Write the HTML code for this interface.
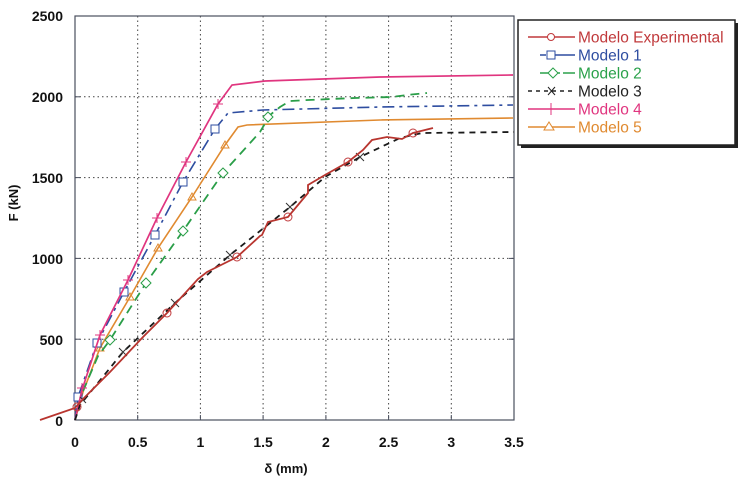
<!DOCTYPE html>
<html><head><meta charset="utf-8"><style>
html,body{margin:0;padding:0;background:#fff;}
svg{display:block;}
text{font-family:"Liberation Sans",Arial,sans-serif;}
.tk{font-size:14px;font-weight:bold;fill:#111;}
</style></head><body>
<svg width="746" height="483" viewBox="0 0 746 483" xmlns="http://www.w3.org/2000/svg">
<rect width="746" height="483" fill="#fff"/>
<!-- grid -->
<g stroke="#444" stroke-width="1" stroke-dasharray="1.5,3" fill="none">
<line x1="137.7" y1="16" x2="137.7" y2="420"/>
<line x1="200.4" y1="16" x2="200.4" y2="420"/>
<line x1="263.1" y1="16" x2="263.1" y2="420"/>
<line x1="325.9" y1="16" x2="325.9" y2="420"/>
<line x1="388.6" y1="16" x2="388.6" y2="420"/>
<line x1="451.3" y1="16" x2="451.3" y2="420"/>
<line x1="75" y1="339.2" x2="514" y2="339.2"/>
<line x1="75" y1="258.4" x2="514" y2="258.4"/>
<line x1="75" y1="177.6" x2="514" y2="177.6"/>
<line x1="75" y1="96.8" x2="514" y2="96.8"/>
</g>
<!-- frame -->
<rect x="75" y="16" width="439" height="404" fill="none" stroke="#4a4f5e" stroke-width="1.2"/>
<g stroke="#4a4f5e" stroke-width="1">
<line x1="75" y1="339.2" x2="80" y2="339.2"/><line x1="75" y1="258.4" x2="80" y2="258.4"/><line x1="75" y1="177.6" x2="80" y2="177.6"/><line x1="75" y1="96.8" x2="80" y2="96.8"/>
<line x1="514" y1="339.2" x2="509" y2="339.2"/><line x1="514" y1="258.4" x2="509" y2="258.4"/><line x1="514" y1="177.6" x2="509" y2="177.6"/><line x1="514" y1="96.8" x2="509" y2="96.8"/>
<line x1="137.7" y1="420" x2="137.7" y2="415"/><line x1="200.4" y1="420" x2="200.4" y2="415"/><line x1="263.1" y1="420" x2="263.1" y2="415"/><line x1="325.9" y1="420" x2="325.9" y2="415"/><line x1="388.6" y1="420" x2="388.6" y2="415"/><line x1="451.3" y1="420" x2="451.3" y2="415"/>
</g>
<!-- y tick labels -->
<g class="tk" text-anchor="end">
<text x="63" y="21">2500</text>
<text x="63" y="102">2000</text>
<text x="63" y="183">1500</text>
<text x="63" y="264">1000</text>
<text x="63" y="345">500</text>
<text x="63" y="426">0</text>
</g>
<!-- x tick labels -->
<g class="tk" text-anchor="middle">
<text x="75" y="447">0</text>
<text x="137.7" y="447">0.5</text>
<text x="200.4" y="447">1</text>
<text x="263.1" y="447">1.5</text>
<text x="325.9" y="447">2</text>
<text x="388.6" y="447">2.5</text>
<text x="451.3" y="447">3</text>
<text x="514" y="447">3.5</text>
</g>
<text x="286" y="473" text-anchor="middle" style="font-size:13px;font-weight:bold;fill:#111">δ (mm)</text>
<text transform="translate(18,203) rotate(-90)" text-anchor="middle" style="font-size:13px;font-weight:bold;fill:#111">F (kN)</text>

<!-- Modelo 5 orange -->
<polyline fill="none" stroke="#e08a30" stroke-width="1.6" points="75,420 83,392 100,348 130,297 158,248 192,197 225,145 238,127 247,125 380,120 513,118"/>
<g fill="none" stroke="#e08a30" stroke-width="1">
<path d="M100,344 l4,7 h-8z"/><path d="M130,293 l4,7 h-8z"/><path d="M158,244 l4,7 h-8z"/><path d="M192,193 l4,7 h-8z"/><path d="M225,141 l4,7 h-8z"/>
</g>
<!-- Modelo 2 green -->
<polyline fill="none" stroke="#2a9e48" stroke-width="1.8" stroke-dasharray="9,6" points="75,420 80,398 98,356 110,340 146,283 183,231 223,173 260,132 270,115 280,107 290,101 308,100 355,98 392,97 407,95 427,93"/>
<g fill="#fff" stroke="#2a9e48" stroke-width="1">
<path d="M110,335 l5,5 l-5,5 l-5,-5z"/><path d="M146,278 l5,5 l-5,5 l-5,-5z"/><path d="M183,226 l5,5 l-5,5 l-5,-5z"/><path d="M223,168 l5,5 l-5,5 l-5,-5z"/><path d="M268,112 l5,5 l-5,5 l-5,-5z"/>
</g>
<!-- Modelo 1 blue -->
<polyline fill="none" stroke="#2e4da0" stroke-width="1.6" stroke-dasharray="12,5,3,5" points="75,420 78,397 97,343 124,292 155,235 183,182 215,129 228,113 263,110 380,107 513,105"/>
<g fill="#fff" stroke="#2e4da0" stroke-width="1">
<rect x="74" y="393" width="8" height="8"/><rect x="93" y="339" width="8" height="8"/><rect x="120" y="288" width="8" height="8"/><rect x="151" y="231" width="8" height="8"/><rect x="179" y="178" width="8" height="8"/><rect x="211" y="125" width="8" height="8"/>
</g>
<!-- Modelo 4 magenta -->
<polyline fill="none" stroke="#e0357f" stroke-width="1.7" points="75,420 82,390 100,335 128,280 157,218 186,162 218,104 232,85 265,81 380,77 513,75"/>
<g stroke="#e0357f" stroke-width="1">
<path d="M77,388h10M82,383v10"/><path d="M95,335h10M100,330v10"/><path d="M123,280h10M128,275v10"/><path d="M152,218h10M157,213v10"/><path d="M181,162h10M186,157v10"/><path d="M213,104h10M218,99v10"/>
</g>
<!-- Modelo 3 black -->
<polyline fill="none" stroke="#1a1a1a" stroke-width="1.8" stroke-dasharray="6,5" points="75,420 80,405 123,352 175,303 230,255 290,207 325,177 360,157 400,138 422,133 514,132"/>
<g stroke="#333" stroke-width="1">
<path d="M80,397l6,6M86,397l-6,6"/><path d="M119,348l8,8M127,348l-8,8"/><path d="M171,299l8,8M179,299l-8,8"/><path d="M226,251l8,8M234,251l-8,8"/><path d="M286,203l8,8M294,203l-8,8"/><path d="M356,153l8,8M364,153l-8,8"/>
</g>
<!-- Experimental red -->
<polyline fill="none" stroke="#b8352f" stroke-width="1.8" points="40,420 75,408 83,399 110,372 143,337 167,313 198,279 207,272 237,257 260,236 262,235 268,222 288,217 308,193 308,185 325,175 348,162 363,150 372,140 387,137 402,139 413,133 433,128"/>
<g fill="none" stroke="#c0393b" stroke-width="1">
<circle cx="77" cy="407" r="4"/><circle cx="167" cy="313" r="4"/><circle cx="237" cy="257" r="4"/><circle cx="288" cy="217" r="4"/><circle cx="348" cy="162" r="4"/><circle cx="413" cy="133" r="4"/>
</g>

<!-- legend -->
<rect x="521" y="23" width="217" height="125" fill="#222"/>
<rect x="518" y="20" width="217" height="125" fill="#fff" stroke="#222" stroke-width="1.5"/>
<g stroke-width="1.5" fill="#fff">
<line x1="528" y1="37" x2="575" y2="37" stroke="#c0393b"/><circle cx="551" cy="37" r="3.5" stroke="#c0393b" stroke-width="1"/>
<line x1="540" y1="55" x2="546" y2="55" stroke="#2e4da0"/><line x1="555" y1="55" x2="575" y2="55" stroke="#2e4da0"/><rect x="547" y="51" width="8" height="8" stroke="#2e4da0" stroke-width="1"/>
<line x1="540" y1="73" x2="560" y2="73" stroke="#2aa14a"/><line x1="563" y1="73" x2="575" y2="73" stroke="#2aa14a"/><path d="M553,68l5,5l-5,5l-5,-5z" stroke="#2aa14a" stroke-width="1"/>
<line x1="528" y1="91" x2="575" y2="91" stroke="#222" stroke-dasharray="4,4"/><path d="M548,87l7,8M555,87l-7,8" stroke="#222" stroke-width="1"/>
<line x1="528" y1="109" x2="575" y2="109" stroke="#e0357f"/><line x1="551" y1="103" x2="551" y2="115" stroke="#e0357f" stroke-width="1"/>
<line x1="528" y1="127" x2="575" y2="127" stroke="#e08a30"/><path d="M549,122l5,8h-10z" stroke="#e08a30" stroke-width="1"/>
</g>
<g style="font-size:15.5px">
<text x="578" y="42.5" fill="#c0393b">Modelo Experimental</text>
<text x="578" y="60.5" fill="#2e4da0">Modelo 1</text>
<text x="578" y="78.5" fill="#2aa14a">Modelo 2</text>
<text x="578" y="96.5" fill="#222">Modelo 3</text>
<text x="578" y="114.5" fill="#e0357f">Modelo 4</text>
<text x="578" y="132.5" fill="#e08a30">Modelo 5</text>
</g>
</svg>
</body></html>
